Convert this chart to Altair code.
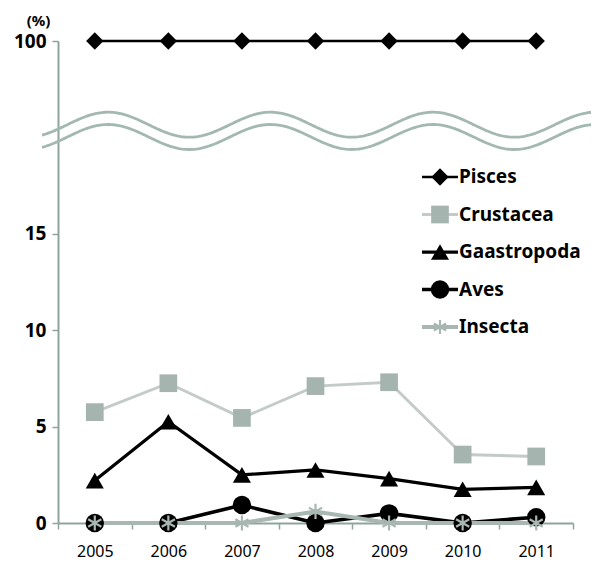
import altair as alt
import numpy as np
import pandas as pd

# ---- data ----
years = ["2005", "2006", "2007", "2008", "2009", "2010", "2011"]
series = ["Pisces", "Crustacea", "Gaastropoda", "Aves", "Insecta"]
pisces = [100, 100, 100, 100, 100, 100, 100]
crustacea = [5.75, 7.25, 5.45, 7.1, 7.3, 3.55, 3.45]
gaastropoda = [2.2, 5.25, 2.5, 2.75, 2.3, 1.75, 1.85]
aves = [0, 0, 0.93, 0, 0.5, 0, 0.3]
insecta = [0, 0, 0, 0.6, 0, 0, 0]
y_ticks = [0, 5, 10, 15, 100]

# ---- broken axis: values above the break are shifted down ----
BREAK_SHIFT = 75


def disp(v):
    return v - BREAK_SHIFT if v >= 50 else v


rows = []
for s, vals in zip(series, [pisces, crustacea, gaastropoda, aves, insecta]):
    for yr, v in zip(years, vals):
        rows.append({"series": s, "year": yr, "value": v, "disp": disp(v)})
df = pd.DataFrame(rows)
legend_df = pd.DataFrame({"series": series})

# ---- styles ----
AXIS_COL = "#8fa49c"
WAVE_COL = "#a3b8b0"
FONT = "Noto Sans"
line_colors = ["#000000", "#c3cbc8", "#000000", "#000000", "#a9b7b3"]
line_widths = [2.5, 4, 3.5, 3, 3.5]
marker_colors = ["#000000", "#a6b4b0", "#000000", "#000000"]
marker_shapes = ["diamond", "square", "triangle-up", "circle"]
marker_sizes = [300, 340, 330, 289]
ASTERISK = "M0,-1V1M-0.87,-0.5L0.87,0.5M-0.87,0.5L0.87,-0.5"
INSECTA_COL = "#a9b7b3"

W, H = 515, 482

y_scale = alt.Scale(domain=[0, disp(100)], nice=False, zero=False)
x_scale = alt.Scale(type="band", paddingInner=0, paddingOuter=0)

x_axis = alt.Axis(
    title=None, labelAngle=0, tickBand="extent", tickSize=6,
    labelFontSize=16, labelFont=FONT, labelPadding=14, labelColor="black",
    domainColor=AXIS_COL, tickColor=AXIS_COL, domainWidth=2, tickWidth=1.5,
    grid=False,
)
y_axis = alt.Axis(
    values=[disp(t) for t in y_ticks],
    labelExpr=f"datum.value == {disp(100)} ? '100' : datum.label",
    title="(%)", titleAngle=0, titleX=-20, titleY=-28, titleAlign="center",
    titleBaseline="top", titleFontSize=15, titleFontWeight="bold",
    titleFont=FONT, titleColor="black",
    labelFontSize=19, labelFontWeight="bold", labelFont=FONT,
    labelColor="black", labelPadding=6,
    tickSize=6, tickColor=AXIS_COL, tickWidth=1.5,
    domainColor=AXIS_COL, domainWidth=2, grid=False,
)

x_main = alt.X("year:N", sort=years, scale=x_scale, axis=x_axis)
y_main = alt.Y("disp:Q", scale=y_scale, axis=y_axis)
x_plain = alt.X("year:N", sort=years, scale=x_scale, axis=None)
y_plain = alt.Y("disp:Q", scale=y_scale, axis=None)

color_enc = alt.Color("series:N", sort=series,
                      scale=alt.Scale(domain=series, range=line_colors), legend=None)
width_enc = alt.StrokeWidth("series:O", sort=series,
                            scale=alt.Scale(domain=series, range=line_widths), legend=None)
fill_enc = alt.Fill("series:N", scale=alt.Scale(domain=series[:4], range=marker_colors), legend=None)
shape_enc = alt.Shape("series:N", scale=alt.Scale(domain=series[:4], range=marker_shapes), legend=None)
size_enc = alt.Size("series:O", scale=alt.Scale(domain=series[:4], range=marker_sizes), legend=None)

base = alt.Chart(df)

lines = base.mark_line(clip=False).encode(
    x=x_main, y=y_main, color=color_enc, strokeWidth=width_enc,
)

pts = base.transform_filter("datum.series != 'Insecta'").mark_point(
    filled=True, opacity=1, clip=False
).encode(x=x_plain, y=y_plain, fill=fill_enc, shape=shape_enc, size=size_enc)

stars = base.transform_filter("datum.series == 'Insecta'").mark_point(
    shape=ASTERISK, filled=False, stroke=INSECTA_COL, strokeWidth=2.2, size=230,
    opacity=1, clip=False,
).encode(x=x_plain, y=y_plain)

# ---- decorative break waves ----
wx = np.linspace(-16, W + 30, 300)
PERIOD, PEAK_X = 162.5, 50
PX = H / disp(100)
wave_rows = []
for name, centre_px in [("upper", 523 - 124.7), ("lower", 523 - 137.0)]:
    for xv in wx:
        yv = (centre_px + 12.5 * np.cos(2 * np.pi * (xv - PEAK_X) / PERIOD)) / PX
        wave_rows.append({"wx": xv, "wy": yv, "wid": name})
wave_df = pd.DataFrame(wave_rows)

waves = alt.Chart(wave_df).mark_line(clip=False, color=WAVE_COL, strokeWidth=2.8).encode(
    x=alt.X("wx:Q", scale=alt.Scale(domain=[0, W], nice=False, zero=False), axis=None),
    y=alt.Y("wy:Q", scale=y_scale, axis=None),
    detail="wid:N",
)

# ---- legend drawn as its own layer ----
leg_y = alt.Y("series:N", sort=series,
              scale=alt.Scale(type="point", domain=series, range=[136, 286], padding=0),
              axis=None)
leg_base = alt.Chart(legend_df)
leg_rule = leg_base.mark_rule().encode(
    x=alt.value(364), x2=alt.value(400), y=leg_y, color=color_enc, strokeWidth=width_enc,
)
leg_pts = leg_base.transform_filter("datum.series != 'Insecta'").mark_point(
    filled=True, opacity=1
).encode(x=alt.value(382), y=leg_y, fill=fill_enc, shape=shape_enc, size=size_enc)
leg_star = leg_base.transform_filter("datum.series == 'Insecta'").mark_point(
    shape=ASTERISK, filled=False, stroke=INSECTA_COL, strokeWidth=2.2, size=200, opacity=1,
).encode(x=alt.value(382), y=leg_y)
leg_text = leg_base.mark_text(
    align="left", baseline="middle", fontSize=19, fontWeight="bold", font=FONT,
    color="black",
).encode(x=alt.value(401), y=leg_y, text="series:N")

chart = (
    alt.layer(waves, lines, pts, stars, leg_rule, leg_pts, leg_star, leg_text)
    .resolve_scale(x="independent", y="independent")
    .properties(
        width=W, height=H, autosize="none",
        padding={"left": 50, "top": 33, "right": 18, "bottom": 40},
    )
    .configure_view(stroke=None)
)

chart.save("out.html", embed_options={"renderer": "svg", "actions": False})
